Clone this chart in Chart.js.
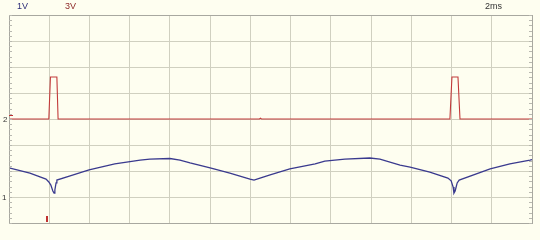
<!DOCTYPE html>
<html><head><meta charset="utf-8">
<script src="https://cdn.jsdelivr.net/npm/chart.js@4/dist/chart.umd.min.js"></script>
<style>html,body{margin:0;padding:0;background:#FEFEF0;}#wrap{width:540px;height:240px;}</style>
</head><body><div id="wrap"><canvas id="c" width="540" height="240"></canvas></div>
<script>
// time in ms (2 ms/div), ch1 in V (1 V/div), ch2 in V (3 V/div)
const ch1Time = [0,1.04,1.84,1.98,2.08,2.18,2.24,2.28,2.34,2.38,3.04,3.98,5.26,6.52,7.0,8.0,8.5,9.0,10.0,10.98,11.98,12.18,12.48,12.98,13.96,15.22,15.7,16.7,17.94,18.44,19.44,19.94,20.92,21.82,21.98,22.08,22.12,22.18,22.28,22.38,23.92,24.9,25.9,26];
const ch1Volts = [1.12,0.92,0.69,0.58,0.46,0.23,0.15,0.27,0.54,0.65,0.81,1.04,1.27,1.42,1.46,1.48,1.42,1.31,1.12,0.92,0.69,0.65,0.73,0.85,1.08,1.27,1.38,1.46,1.50,1.46,1.23,1.15,0.96,0.73,0.62,0.38,0.15,0.23,0.54,0.65,1.08,1.27,1.42,1.44];
const ch2Time = [0,1.98,2.06,2.38,2.44,12.45,12.5,12.55,21.92,22.02,22.32,22.42,26];
const ch2Volts = [0,0,4.85,4.85,0,0,0.1,0,0,4.85,4.85,0,0];
const ch1Label = "1V", ch2Label = "3V", timeLabel = "2ms";

const toXY = (xs, ys) => xs.map((x, i) => ({x, y: ys[i]}));

const scopePlugin = {
  id: 'scope',
  beforeDraw(chart) {
    const ctx = chart.ctx;
    ctx.save();
    ctx.fillStyle = '#FEFEF0';
    ctx.fillRect(0, 0, chart.width, chart.height);
    ctx.restore();
  },
  afterDraw(chart) {
    const ctx = chart.ctx, a = chart.chartArea;
    const y = chart.scales.y, x = chart.scales.x, y2 = chart.scales.y2;
    ctx.save();
    // frame
    ctx.strokeStyle = '#A8A8A0';
    ctx.lineWidth = 1;
    ctx.strokeRect(Math.round(a.left) + 0.5, Math.round(a.top) + 0.5, Math.round(a.right - a.left), Math.round(a.bottom - a.top));
    // minor ticks on left and right borders
    ctx.strokeStyle = '#B8B8B0';
    for (let v = -1; v <= 7.001; v += 0.2) {
      const py = Math.round(y.getPixelForValue(v)) + 0.5;
      ctx.beginPath();
      ctx.moveTo(a.left, py); ctx.lineTo(a.left + 3, py);
      ctx.moveTo(a.right - 3, py); ctx.lineTo(a.right, py);
      ctx.stroke();
    }
    // labels
    ctx.font = '9px "Liberation Sans", Arial, sans-serif';
    ctx.textBaseline = 'middle';
    ctx.fillStyle = '#2E2E78';
    ctx.fillText(ch1Label, 17, 7);
    ctx.fillStyle = '#8E2A2A';
    ctx.fillText(ch2Label, 65, 7);
    ctx.fillStyle = '#333333';
    ctx.fillText(timeLabel, 485, 7);
    // channel ground markers
    ctx.font = '8px "Liberation Sans", Arial, sans-serif';
    ctx.fillStyle = '#333333';
    ctx.fillText('2', 3, y2.getPixelForValue(0) + 1);
    ctx.fillText('1', 2, y.getPixelForValue(0) + 1);
    ctx.strokeStyle = '#C03030';
    ctx.beginPath();
    ctx.moveTo(9, Math.round(y2.getPixelForValue(0)) - 3.5);
    ctx.lineTo(13, Math.round(y2.getPixelForValue(0)) - 3.5);
    ctx.stroke();
    // trigger marker
    const tx = Math.round(x.getPixelForValue(1.9));
    ctx.lineWidth = 2;
    ctx.beginPath();
    ctx.moveTo(tx, a.bottom - 1); ctx.lineTo(tx, a.bottom - 7);
    ctx.stroke();
    ctx.restore();
  }
};

new Chart(document.getElementById('c'), {
  type: 'line',
  data: {
    datasets: [
      {label: 'CH2', data: toXY(ch2Time, ch2Volts), yAxisID: 'y2', borderColor: '#C23A3A', borderWidth: 1.1, pointRadius: 0, tension: 0},
      {label: 'CH1', data: toXY(ch1Time, ch1Volts), yAxisID: 'y', borderColor: '#3A3A8E', borderWidth: 1.3, pointRadius: 0, tension: 0}
    ]
  },
  options: {
    responsive: false, animation: false, devicePixelRatio: 1,
    layout: {padding: {left: 9, right: 8, top: 15, bottom: 17}},
    plugins: {legend: {display: false}, tooltip: {enabled: false}},
    scales: {
      x: {type: 'linear', min: 0, max: 26, ticks: {display: false, stepSize: 2},
          grid: {color: '#D0D0C0', drawTicks: false}, border: {color: '#A8A8A0', width: 1}},
      y: {min: -1, max: 7, ticks: {display: false, stepSize: 1},
          grid: {color: '#D0D0C0', drawTicks: false}, border: {color: '#A8A8A0', width: 1}},
      y2: {display: false, min: -12, max: 12}
    }
  },
  plugins: [scopePlugin]
});
</script></body></html>
